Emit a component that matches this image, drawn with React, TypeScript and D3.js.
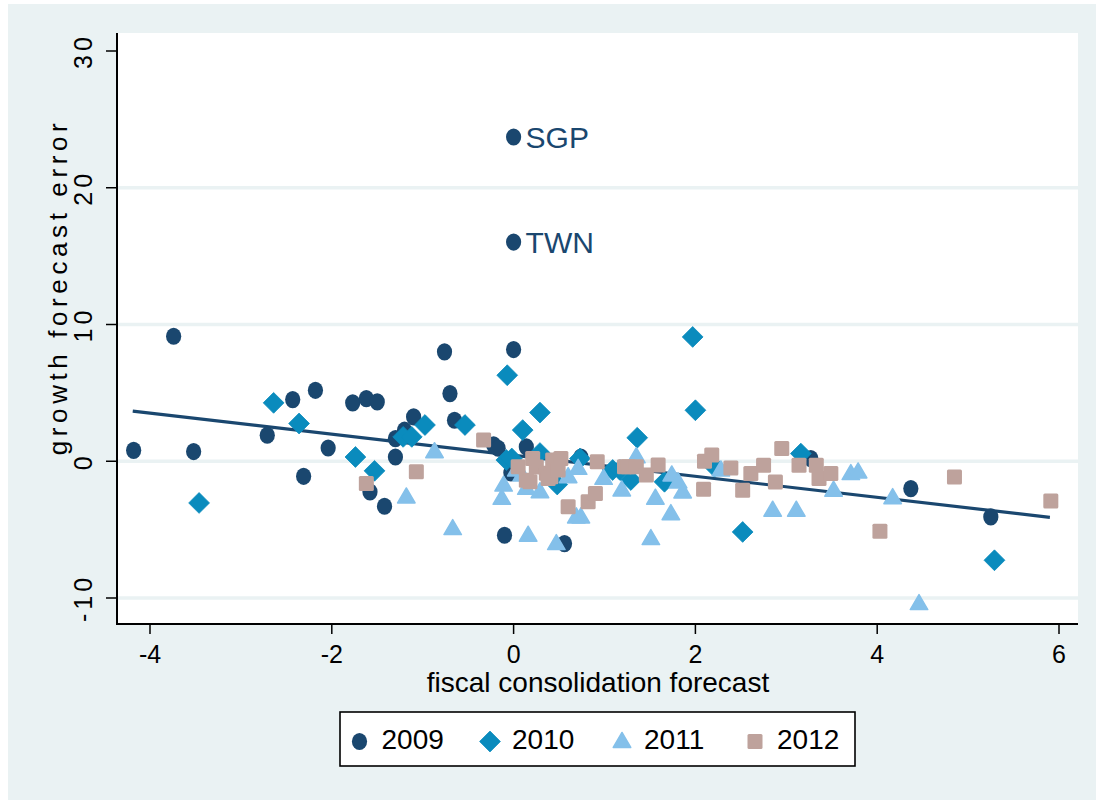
import React from "react";
import * as d3 from "d3";

// ---- data ----
const years = ["2009", "2010", "2011", "2012"];

const data2009: [number, number][] = [
  [-4.18, 0.8], [-3.74, 9.14], [-3.52, 0.71], [-2.71, 1.9], [-2.43, 4.51], [-2.31, -1.1],
  [-2.18, 5.19], [-2.04, 0.97], [-1.77, 4.27], [-1.62, 4.58], [-1.5, 4.34], [-1.58, -2.24],
  [-1.42, -3.29], [-1.3, 0.31], [-1.3, 1.66], [-1.2, 2.27], [-1.1, 3.24], [-0.76, 8.0],
  [-0.7, 4.95], [-0.65, 3.0], [-0.22, 1.2], [-0.17, 0.95], [0.0, 8.17], [0.0, 23.71],
  [0.0, 16.03], [-0.1, -5.41], [0.56, -6.02], [-0.03, -0.85], [0.14, 1.05], [0.74, 0.31],
  [3.27, 0.19], [4.37, -2.0], [5.25, -4.07],
];

const data2010: [number, number][] = [
  [-3.46, -3.05], [-2.64, 4.27], [-2.36, 2.76], [-1.74, 0.31], [-1.53, -0.7], [-1.215, 1.78],
  [-1.12, 1.78], [-0.975, 2.65], [-0.535, 2.65], [-0.07, 6.29], [0.29, 3.56], [-0.08, 0.09],
  [-0.02, 0.2], [0.1, 2.28], [0.48, -1.7], [0.29, 0.6], [0.73, 0.2], [1.36, 1.72],
  [1.97, 9.09], [2.0, 3.73], [1.09, -0.64], [1.17, -0.64], [1.29, -1.37], [1.66, -1.5],
  [2.21, -0.4], [2.52, -5.17], [3.16, 0.56], [5.29, -7.24],
];

const data2011: [number, number][] = [
  [-1.18, -2.61], [-0.87, 0.7], [-0.67, -4.92], [-0.11, -1.74], [-0.13, -2.71], [0.03, -0.64],
  [0.09, -1.0], [0.14, -1.98], [0.16, -5.41], [0.29, -2.23], [0.47, -6.02], [0.6, -1.13],
  [0.69, -4.07], [0.74, -4.07], [0.71, -0.52], [0.99, -1.25], [1.19, -2.1], [1.35, 0.33],
  [1.51, -5.65], [1.56, -2.7], [1.73, -3.83], [1.74, -1.0], [1.81, -1.51], [1.86, -2.24],
  [2.28, -0.64], [2.85, -3.58], [3.11, -3.58], [3.52, -2.12], [3.71, -0.9], [3.79, -0.78],
  [4.17, -2.66], [4.46, -10.41],
];

const data2012: [number, number][] = [
  [-1.62, -1.63], [-1.07, -0.77], [-0.33, 1.56], [0.05, -0.4], [0.14, -1.39], [0.18, -1.5],
  [0.21, 0.2], [0.25, -0.42], [0.36, -0.88], [0.41, -1.13], [0.38, -1.27], [0.43, 0.09],
  [0.52, 0.2], [0.49, -0.64], [0.6, -3.33], [0.82, -2.96], [0.9, -2.35], [0.92, -0.03],
  [1.22, -0.4], [1.26, -0.4], [1.35, -0.4], [1.46, -1.0], [1.59, -0.27], [2.09, -2.05],
  [2.1, 0.0], [2.18, 0.46], [2.39, -0.5], [2.52, -2.12], [2.61, -0.9], [2.75, -0.29],
  [2.88, -1.51], [2.95, 0.93], [3.14, -0.29], [3.33, -0.29], [3.36, -1.27], [3.49, -0.9],
  [4.03, -5.12], [4.85, -1.15], [5.91, -2.9],
];

const labelled: { x: number; y: number; name: string }[] = [
  { x: 0.0, y: 23.71, name: "SGP" },
  { x: 0.0, y: 16.03, name: "TWN" },
];

const fitX = [-4.19, 5.9];
const fitY = [3.66, -4.1];

const xTicks = [-4, -2, 0, 2, 4, 6];
const yTicks = [-10, 0, 10, 20, 30];
const yGrid = [-10, 0, 10, 20];

const xTitle = "fiscal consolidation forecast";
const yTitle = "growth forecast error";

// ---- styling ----
const W = 1096;
const H = 802;
const BG = "#eaf2f3";
const NAVY = "#1a476f";
const COLORS = ["#1a476f", "#0a8bbd", "#84c0ea", "#bea29c"];
const FONT = "'Liberation Sans', Arial, sans-serif";

const plot = { left: 117, right: 1078, top: 33, bottom: 624 };

function Marker({ kind, cx, cy, color }: { kind: number; cx: number; cy: number; color: string }) {
  if (kind === 0) return <ellipse cx={cx} cy={cy} rx={7.6} ry={8.6} fill={color} />;
  if (kind === 1) {
    const r = 10.4;
    const d = `M${cx},${cy - r} L${cx + r},${cy} L${cx},${cy + r} L${cx - r},${cy} Z`;
    return <path d={d} fill={color} stroke={color} strokeWidth={0.8} strokeLinejoin="round" />;
  }
  if (kind === 2) {
    const h = 15;
    const w = 17.5;
    const d = `M${cx},${cy - h * 0.6} L${cx + w / 2},${cy + h * 0.4} L${cx - w / 2},${cy + h * 0.4} Z`;
    return <path d={d} fill={color} stroke={color} strokeWidth={1.5} strokeLinejoin="round" />;
  }
  return <rect x={cx - 7.5} y={cy - 7.5} width={15} height={15} rx={1.5} fill={color} />;
}

export default function App() {
  const x = d3.scaleLinear().domain([-4, 6]).range([150, 1059]);
  const y = d3.scaleLinear().domain([-10, 30]).range([598, 51]);
  const series = [data2009, data2010, data2011, data2012];
  const line = d3
    .line<number>()
    .x((d) => x(fitX[d]))
    .y((d) => y(fitY[d]));

  const legendX = [359.5, 490, 622, 755];

  return (
    <svg
      width={W}
      height={H}
      style={{ position: "absolute", left: 0, top: 0, display: "block" }}
      fontFamily={FONT}
    >
      <rect x={0} y={0} width={W} height={H} fill="#ffffff" />
      <rect x={8} y={4} width={W - 8} height={H - 6} fill={BG} />
      <rect
        x={plot.left}
        y={plot.top}
        width={plot.right - plot.left}
        height={plot.bottom - plot.top}
        fill="#ffffff"
      />
      {yGrid.map((v) => (
        <line key={v} x1={plot.left} x2={plot.right} y1={y(v)} y2={y(v)} stroke={BG} strokeWidth={3.5} />
      ))}

      {/* fitted line */}
      <path d={line([0, 1]) as string} stroke={NAVY} strokeWidth={3.2} fill="none" />

      {/* markers */}
      {series.map((s, i) => (
        <g key={i}>
          {s.map((p, j) => (
            <Marker key={j} kind={i} cx={x(p[0])} cy={y(p[1])} color={COLORS[i]} />
          ))}
        </g>
      ))}

      {labelled.map((l) => (
        <text
          key={l.name}
          x={x(l.x) + 12}
          y={y(l.y) + 11}
          fontSize={30}
          fill={NAVY}
        >
          {l.name}
        </text>
      ))}

      {/* axes */}
      <line x1={plot.left} x2={plot.left} y1={plot.top} y2={plot.bottom + 1} stroke="#000" strokeWidth={2} />
      <line x1={plot.left - 1} x2={plot.right} y1={plot.bottom} y2={plot.bottom} stroke="#000" strokeWidth={2} />
      {yTicks.map((v) => (
        <g key={v}>
          <line x1={plot.left - 11} x2={plot.left} y1={y(v)} y2={y(v)} stroke="#000" strokeWidth={1.5} />
          <text
            transform={`translate(92,${y(v)}) rotate(-90)`}
            textAnchor="middle"
            fontSize={25}
            letterSpacing={4}
            fill="#000"
          >
            {String(v)}
          </text>
        </g>
      ))}
      {xTicks.map((v) => (
        <g key={v}>
          <line x1={x(v)} x2={x(v)} y1={plot.bottom} y2={plot.bottom + 10} stroke="#000" strokeWidth={1.5} />
          <text x={x(v)} y={663} textAnchor="middle" fontSize={25} fill="#000">
            {v < 0 ? `-${Math.abs(v)}` : String(v)}
          </text>
        </g>
      ))}
      <text x={598} y={692} textAnchor="middle" fontSize={28} fill="#000">
        {xTitle}
      </text>
      <text
        transform={`translate(67,287) rotate(-90)`}
        textAnchor="middle"
        fontSize={26}
        letterSpacing={4.6}
        fill="#000"
      >
        {yTitle}
      </text>

      {/* legend */}
      <rect x={340} y={712} width={515} height={54} fill="#ffffff" stroke="#000" strokeWidth={1.6} />
      {years.map((yr, i) => (
        <g key={yr}>
          <Marker kind={i} cx={legendX[i]} cy={741.5} color={COLORS[i]} />
          <text x={legendX[i] + 22} y={749} fontSize={28} fill="#000">
            {yr}
          </text>
        </g>
      ))}
    </svg>
  );
}
